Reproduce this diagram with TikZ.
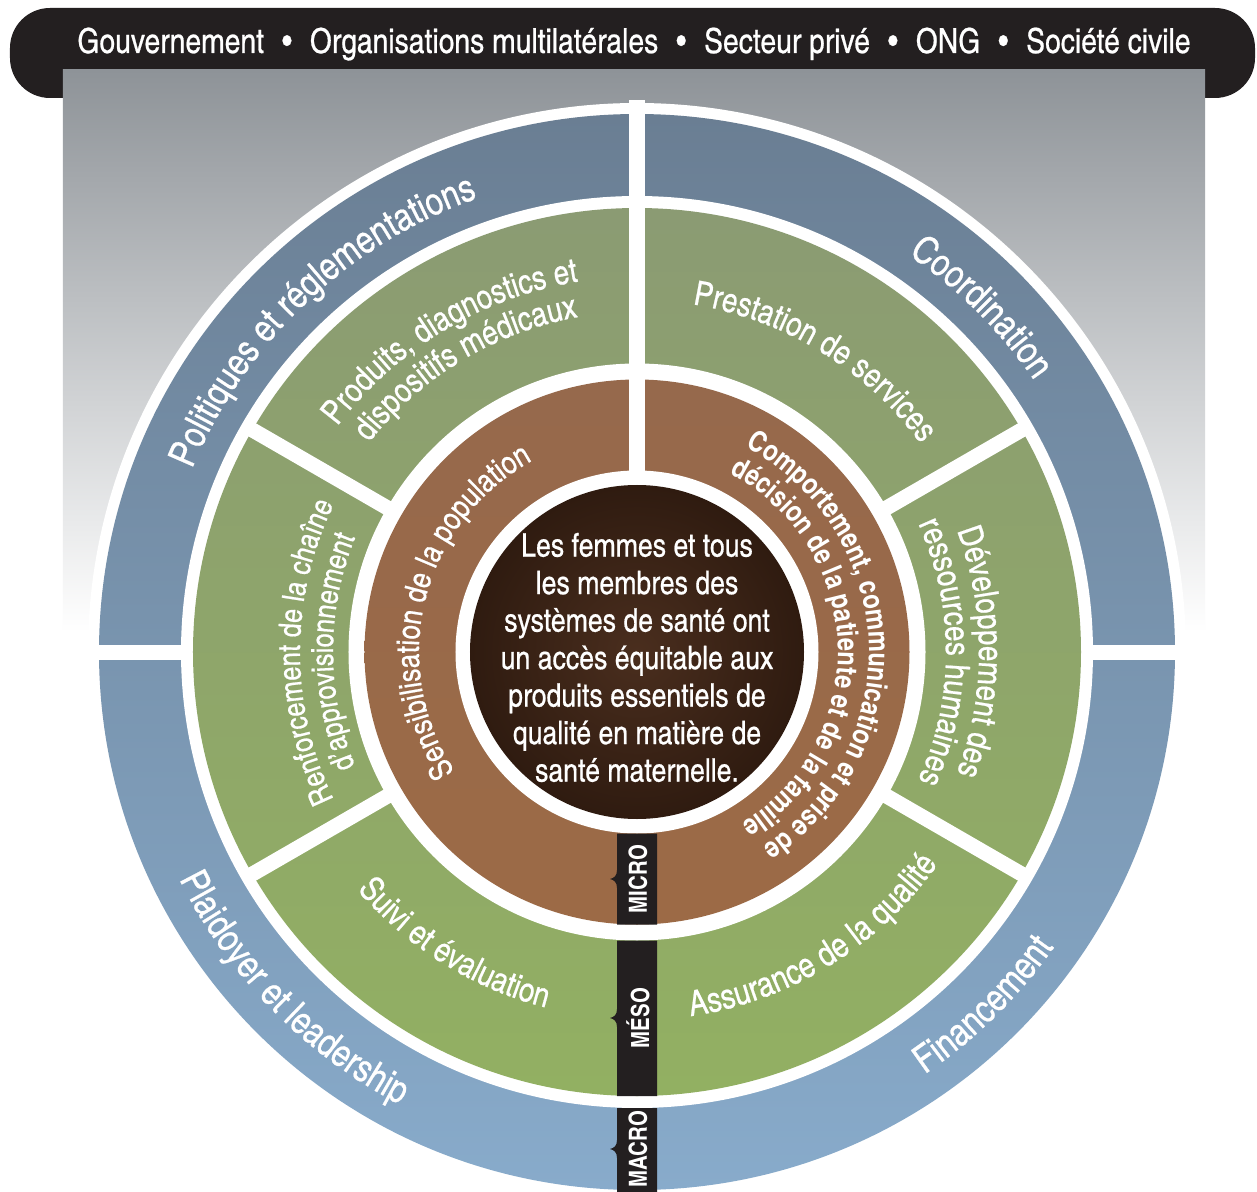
\documentclass[tikz,border=0pt]{standalone}
\usepackage{fontspec}
\setmainfont{texgyreheroscn}[Extension=.otf, UprightFont=*-regular, BoldFont=*-bold, ItalicFont=*-italic, BoldItalicFont=*-bolditalic, UprightFeatures={FakeBold=0.6}]
\usetikzlibrary{decorations.text}
\definecolor{bannerblack}{HTML}{231F20}
\definecolor{panelgray}{HTML}{8E9398}
\definecolor{bluetop}{HTML}{6A7E93}
\definecolor{bluebot}{HTML}{88ABCB}
\definecolor{greentop}{HTML}{8B9B73}
\definecolor{greenbot}{HTML}{92B062}
\definecolor{browntop}{HTML}{96694C}
\definecolor{brownbot}{HTML}{9C6A46}
\definecolor{darkin}{HTML}{4A2E1E}
\definecolor{darkout}{HTML}{2F1B10}
\newcommand\fblue{\fontsize{38.5}{38.5}\selectfont}
\newcommand\fgreen{\fontsize{34}{34}\selectfont}
\newcommand\fgreens{\fontsize{31}{31}\selectfont}
\newcommand\fbrown{\fontsize{32}{32}\selectfont}
\newcommand\fbrownb{\bfseries\fontsize{29}{29}\selectfont}
\newcommand\cwarc[4]{%
 \path[decorate,decoration={text along path,text align=center,
   text={|#3\color{white}|#4}}]
   ({#1+89}:#2) arc[start angle={#1+89}, end angle={#1-89}, radius=#2];}
\newcommand\ccwarc[4]{%
 \path[decorate,decoration={text along path,text align=center,
   text={|#3\color{white}|#4}}]
   ({#1-89}:#2) arc[start angle={#1-89}, end angle={#1+89}, radius=#2];}
\newcommand\levelbar[3]{%
 \fill[bannerblack] (-20,#1) -- (-20,#2+9) .. controls (-20,#2+3) and (-23,#2+1) .. (-27,#2)
   .. controls (-23,#2-1) and (-20,#2-3) .. (-20,#2-9) -- (-20,#3) -- (20,#3) -- (20,#1) -- cycle;}
\newcommand\bsep{\hspace{18pt}\textbullet\hspace{18pt}}
\tikzset{
  sepline/.style={white, line width=16pt},
  barlabel/.style={text=white, font=\bfseries\fontsize{25}{25}\selectfont, rotate=90, inner sep=0pt},
  centertext/.style={text=white, align=center, font=\fontsize{32.5}{37.5}\selectfont},
  bannertext/.style={text=white, font=\fontsize{34.5}{34.5}\selectfont, inner sep=0pt}
}
\begin{document}
\begin{tikzpicture}[x=1pt,y=1pt]
\useasboundingbox (-637,-539) rectangle (620,652);
\fill[white] (-637,-539) rectangle (620,652);
% banner and panel
\fill[bannerblack, rounded corners=40pt] (-627,554) rectangle (618,644);
\shade[top color=panelgray, bottom color=white] (-574,582) rectangle (568,20);
\node[bannertext, anchor=base] (actors) at (-3,599) {Gouvernement\bsep Organisations multilatérales\bsep Secteur privé\bsep ONG\bsep Société civile};
% rings
\fill[white] (0,0) circle[radius=549];
\shade[top color=bluetop, bottom color=bluebot] (0,0) circle[radius=538];
\fill[white] (0,0) circle[radius=456];
\shade[top color=greentop, bottom color=greenbot] (0,0) circle[radius=444];
\fill[white] (0,0) circle[radius=288.5];
\shade[top color=browntop, bottom color=brownbot] (0,0) circle[radius=272.5];
\fill[white] (0,0) circle[radius=181.5];
% separators
\draw[sepline] (0,170) -- (0,552);
\draw[sepline, line width=15pt] (-552,0) -- (-450,0);
\draw[sepline, line width=15pt] (450,0) -- (552,0);
\foreach \a in {30,150,210,330}{\draw[sepline, line width=15pt] (\a:280) -- (\a:452);}
% level bars
\levelbar{-181.5}{-227}{-272.5}
\levelbar{-288.5}{-366}{-444}
\levelbar{-456}{-497}{-545}
\node[barlabel] (micro) at (1,-227) {MICRO};
\node[barlabel] (meso) at (1,-366) {MÉSO};
\node[barlabel] (macro) at (1,-497) {MACRO};
% centre
\shade[inner color=darkin, outer color=darkout] (0,0) circle[radius=167];
\node[centertext] (goal) at (0,-5.5) {Les femmes et tous\\les membres des\\systèmes de santé ont\\un accès équitable aux\\produits essentiels de\\qualité en matière de\\santé maternelle.};
% blue ring texts
\cwarc{133.5}{481}{\fblue}{Politiques et réglementations}
\cwarc{45}{481}{\fblue}{Coordination}
\ccwarc{224.4}{511}{\fblue}{Plaidoyer et leadership}
\ccwarc{314.5}{511}{\fblue}{Financement}
% green ring texts
\cwarc{121}{375}{\fgreen}{Produits, diagnostics et}
\cwarc{121}{340}{\fgreen}{dispositifs médicaux}
\cwarc{58.6}{352}{\fgreen}{Prestation de services}
\cwarc{180}{337}{\fgreens}{Renforcement de la chaîne}
\cwarc{180}{304}{\fgreens}{d'approvisionnement}
\cwarc{0}{342}{\fgreen}{Développement des}
\cwarc{0}{309}{\fgreen}{ressources humaines}
\ccwarc{238}{367}{\fgreen}{Suivi et évaluation}
\ccwarc{301.6}{368}{\fontsize{35}{35}\selectfont}{Assurance de la qualité}
% brown ring texts
\cwarc{166}{218}{\fbrown}{Sensibilisation de la population}
\cwarc{2.5}{232}{\fbrownb}{Comportement, communication et prise de}
\cwarc{2}{201}{\fbrownb}{décision de la patiente et de la famille}
\end{tikzpicture}
\end{document}
